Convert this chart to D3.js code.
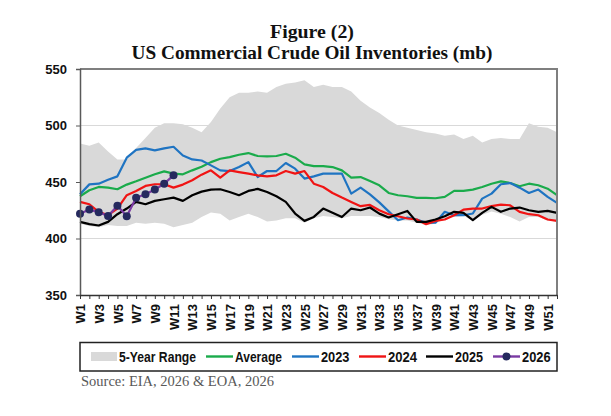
<!DOCTYPE html>
<html>
<head>
<meta charset="utf-8">
<script src="https://cdn.jsdelivr.net/npm/d3@7"></script>
<style>
  html, body { margin: 0; padding: 0; background: #ffffff; }
  svg { display: block; }
</style>
</head>
<body>
<svg id="chart" width="611" height="416"></svg>
<script>
// ---------------- DATA ----------------
const weeks = d3.range(1, 53).map(i => "W" + i);

const rangeHigh = [484,482,485,477,470,470,480,489,498,502,502,501,498,494,503,515,525,529,529,530,
                   529,534,537,538,540,534,536,534,534,530,522,516,511,505,500,498,496,494,493,491,
                   492,488,491,485,488,489,488,488,502,499,498,494];
const rangeLow  = [413,411,410,412,411,411,414,413,414,413,410,412,414,419,423,422,416,419,422,419,
                   415,416,418,418,414,418,420,419,418,420,420,420,419,417,416,416,414,412,413,418,
                   419,420,416,421,424,422,419,415,419,419,416,415];
const average   = [437.4,442.7,445.6,445,443.6,447.7,450.6,453.8,456.8,459.4,457.4,456.8,460.3,463.5,467.6,470.6,472,474.1,475.6,473,
                   472.7,473,475,471.5,465.6,464,464.1,463.2,460.3,453.8,454.4,450.9,447.1,440.3,438.3,437.4,435.9,435.9,435.6,436.8,
                   442.1,442.1,443.3,445.6,448.5,450.6,449.1,446.2,448.5,447.1,444.1,438.3];
const y2023     = [439.1,447.9,448.5,452,455,471.5,478.5,479.7,478,479.7,481.2,473.5,470,469,464.7,460.3,459.7,463.2,467.6,454.4,
                   459.7,459.7,466.8,461.8,453,455,457.4,457.4,457.4,439.7,445,439,432,424,416.2,418.6,416.8,413.9,414,423.6,
                   420.6,420.6,422.1,435.3,439.7,448,449.1,445,440.3,443.3,436.8,431.5];
const y2024     = [432.4,430.3,423.6,420.6,426.5,438.3,442,446.5,448,448,445,447.7,451.5,456.5,460.3,453.8,460.3,458.8,457.4,455.9,
                   455,455.9,459.7,457.4,459.7,448.5,445.6,440.3,436.2,432.4,428.6,429.7,425,421.5,419.7,417.7,416.8,412.7,415.6,416.8,
                   420.6,425.6,426.5,426.5,428.6,430,429.4,423.6,421.5,420.6,416.8,415.6];
const y2025     = [414.7,412.7,411.5,414.7,421.5,426.5,432.4,430.3,433.3,434.7,436.2,433.3,438.3,441.5,443.3,443.6,441.2,438.3,442.1,443.9,
                   441.2,437.4,432.4,422.1,415.6,419.1,426.5,422.7,419,426.5,425,427.4,422,418.6,421.5,424.4,414.7,414.7,416.8,419.7,
                   423.6,422.7,416.2,422.7,428,423.6,426.5,427.4,425,423.6,424.4,422.7];
const y2026     = [422,425.6,423.3,420,428.9,419.7,436,439.1,443.3,448.5,455.9];

const yTicks = [350, 400, 450, 500, 550];
const gridValues = [400, 450, 500];
const titleLines = ["Figure (2)", "US Commercial Crude Oil Inventories (mb)"];
const sourceText = "Source: EIA, 2026 & EOA, 2026";

const legendItems = [
  {label: "5-Year Range", type: "area", color: "#d9d9d9"},
  {label: "Average", type: "line", color: "#1aab4b"},
  {label: "2023", type: "line", color: "#1f74c2"},
  {label: "2024", type: "line", color: "#f01414"},
  {label: "2025", type: "line", color: "#000000"},
  {label: "2026", type: "marker", color: "#7a3aa3", marker: "#25295e"}
];

// ---------------- LAYOUT ----------------
const svg = d3.select("#chart");
const L = 80, R = 557, T = 69, B = 295;

const x = d3.scalePoint().domain(weeks).range([L, R]).padding(0);
const y = d3.scaleLinear().domain([350, 550]).range([B, T]);

const sansBold = "'Liberation Sans', Arial, sans-serif";
const serif = "'Liberation Serif', 'DejaVu Serif', serif";

function fitWidth(sel, target) {
  const w = sel.node().getComputedTextLength();
  const fs = parseFloat(sel.attr("font-size"));
  sel.attr("font-size", (fs * target / w).toFixed(2));
}

// Title
const t1 = svg.append("text").attr("x", 312).attr("y", 38).attr("text-anchor", "middle")
  .attr("font-family", serif).attr("font-weight", "bold").attr("font-size", 17).attr("fill", "#111")
  .text(titleLines[0]);
fitWidth(t1, 84);
const t2 = svg.append("text").attr("x", 312).attr("y", 59).attr("text-anchor", "middle")
  .attr("font-family", serif).attr("font-weight", "bold").attr("font-size", 17).attr("fill", "#111")
  .text(titleLines[1]);
fitWidth(t2, 361);

// Gridlines
svg.append("g").selectAll("line").data(gridValues).join("line")
  .attr("x1", L).attr("x2", R).attr("y1", d => y(d)).attr("y2", d => y(d))
  .attr("stroke", "#d9d9d9").attr("stroke-width", 1);

// Band
const area = d3.area()
  .x((d, i) => x(weeks[i]))
  .y0((d, i) => y(rangeLow[i]))
  .y1((d, i) => y(rangeHigh[i]));
svg.append("path").datum(rangeHigh).attr("d", area).attr("fill", "#d9d9d9");

// Lines
const line = d3.line().x((d, i) => x(weeks[i])).y(d => y(d));
const series = [
  {data: average, color: legendItems[1].color},
  {data: y2023, color: legendItems[2].color},
  {data: y2024, color: legendItems[3].color},
  {data: y2025, color: legendItems[4].color},
  {data: y2026, color: legendItems[5].color}
];
series.forEach(s => {
  svg.append("path").datum(s.data).attr("d", line)
    .attr("fill", "none").attr("stroke", s.color).attr("stroke-width", 2.2)
    .attr("stroke-linejoin", "round");
});
svg.append("g").selectAll("circle").data(y2026).join("circle")
  .attr("cx", (d, i) => x(weeks[i])).attr("cy", d => y(d)).attr("r", 4)
  .attr("fill", legendItems[5].marker);

// Plot border (top / right)
svg.append("path")
  .attr("d", `M${L},${T}H${R}V${B}`)
  .attr("fill", "none").attr("stroke", "#7f7f7f").attr("stroke-width", 2);

// Y axis
const yAxis = svg.append("g").attr("transform", `translate(${L},0)`)
  .call(d3.axisLeft(y).tickValues(yTicks).tickSize(4).tickPadding(9));
yAxis.select(".domain").attr("stroke", "#595959").attr("stroke-width", 1.5);
yAxis.selectAll(".tick line").attr("stroke", "#595959");
yAxis.selectAll("text").attr("font-family", sansBold).attr("font-weight", "bold")
  .attr("font-size", 13).attr("fill", "#111");

// X axis
const xAxis = svg.append("g").attr("transform", `translate(0,${B})`)
  .call(d3.axisBottom(x).tickSize(4).tickSizeOuter(0)
    .tickFormat((d, i) => (i % 2 === 0 ? d : "")));
xAxis.select(".domain").attr("stroke", "#333").attr("stroke-width", 1.5);
xAxis.selectAll(".tick line").attr("stroke", "#333");
xAxis.selectAll("text")
  .attr("transform", "rotate(-90)")
  .attr("text-anchor", "end")
  .attr("x", -9).attr("y", 0).attr("dy", "0.36em")
  .attr("font-family", sansBold).attr("font-weight", "bold")
  .attr("font-size", 13).attr("fill", "#111");

// Legend
const lg = svg.append("g");
lg.append("rect").attr("x", 80).attr("y", 342.5).attr("width", 477).attr("height", 28.5)
  .attr("fill", "#fff").attr("stroke", "#222").attr("stroke-width", 1.5);
const legendX = [91, 206, 292, 359, 426, 493];
const legendTextW = [77, 47, 28.5, 29, 28, 28.6];
const ly = 356.5;
legendItems.forEach((it, i) => {
  const x0 = legendX[i];
  const g = lg.append("g");
  if (it.type === "area") {
    g.append("rect").attr("x", x0).attr("y", ly - 4.5).attr("width", 26).attr("height", 9).attr("fill", it.color);
  } else {
    g.append("line").attr("x1", x0).attr("x2", x0 + 27).attr("y1", ly).attr("y2", ly)
      .attr("stroke", it.color).attr("stroke-width", 2.4);
    if (it.type === "marker") {
      g.append("circle").attr("cx", x0 + 13.5).attr("cy", ly).attr("r", 4).attr("fill", it.marker);
    }
  }
  g.append("text").attr("x", x0 + (it.type === "area" ? 28 : 29)).attr("y", ly).attr("dy", "0.36em")
    .attr("font-family", sansBold).attr("font-weight", "bold").attr("font-size", 14)
    .attr("textLength", legendTextW[i]).attr("lengthAdjust", "spacingAndGlyphs")
    .attr("fill", "#111").text(it.label);
});

// Source
const src = svg.append("text").attr("x", 81).attr("y", 386)
  .attr("font-family", serif).attr("font-size", 13).attr("fill", "#595959").text(sourceText);
fitWidth(src, 193);
</script>
</body>
</html>
